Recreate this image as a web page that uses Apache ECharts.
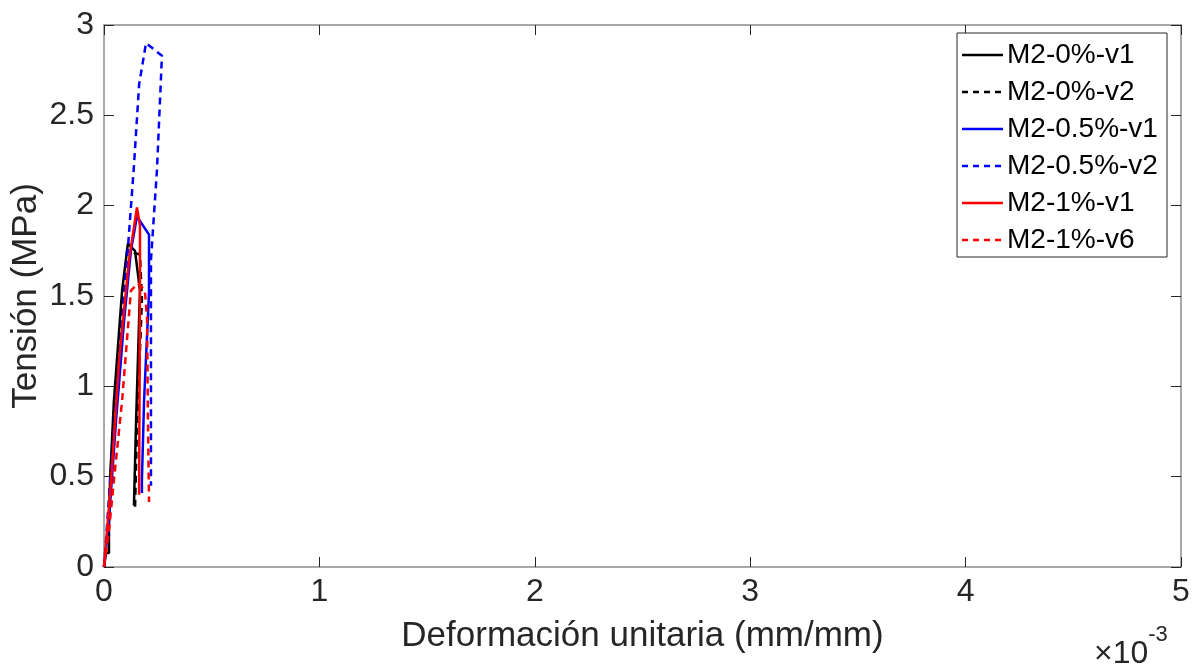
<!DOCTYPE html>
<html>
<head>
<meta charset="utf-8">
<script src="https://cdn.jsdelivr.net/npm/echarts@6/dist/echarts.min.js"></script>
<style>
  html, body { margin: 0; padding: 0; background: #fff; }
  #chart { width: 1201px; height: 667px; }
</style>
</head>
<body>
<div id="chart"></div>
<script>
// Strain values are in units of 1e-3 mm/mm (axis shows ×10^-3), stress in MPa.
const seriesNames = ['M2-0%-v1', 'M2-0%-v2', 'M2-0.5%-v1', 'M2-0.5%-v2', 'M2-1%-v1', 'M2-1%-v6'];

const m0v1Strain = [0, 0.009, 0.023, 0.023, 0.028, 0.046, 0.084, 0.111, 0.144, 0.167, 0.149, 0.139];
const m0v1Stress = [0, 0.077, 0.077, 0.205, 0.48, 0.92, 1.53, 1.79, 1.75, 1.53, 0.81, 0.34];

const m0v2Strain = [0, 0.014, 0.037, 0.070, 0.107, 0.167, 0.176, 0.153, 0.144];
const m0v2Stress = [0, 0.15, 0.65, 1.26, 1.75, 1.73, 1.48, 0.76, 0.32];

const m05v1Strain = [0, 0.023, 0.056, 0.093, 0.125, 0.153, 0.209, 0.209, 0.186, 0.176, 0.176];
const m05v1Stress = [0, 0.26, 0.81, 1.36, 1.75, 1.94, 1.84, 1.52, 0.92, 0.48, 0.41];

const m05v2Strain = [0, 0.033, 0.070, 0.107, 0.139, 0.163, 0.195, 0.269, 0.246, 0.218, 0.218, 0.218];
const m05v2Stress = [0, 0.54, 1.15, 1.70, 2.22, 2.67, 2.90, 2.83, 2.20, 1.70, 0.76, 0.45];

const m1v1Strain = [0, 0.033, 0.070, 0.116, 0.153, 0.167, 0.167, 0.163];
const m1v1Stress = [0, 0.48, 1.14, 1.70, 1.99, 1.89, 1.53, 0.40];

const m1v6Strain = [0, 0.023, 0.046, 0.084, 0.125, 0.158, 0.190, 0.200, 0.204, 0.209];
const m1v6Stress = [0, 0.20, 0.48, 0.92, 1.53, 1.57, 1.53, 1.37, 0.81, 0.36];

const xTicks = [0, 1, 2, 3, 4, 5];
const yTicks = [0, 0.5, 1, 1.5, 2, 2.5, 3];

const seriesColors = ['#000000', '#000000', '#0000ff', '#0000ff', '#ff0000', '#ff0000'];
const DASH = [7, 5];
const seriesDash = ['solid', DASH, 'solid', DASH, 'solid', DASH];

const pairs = (xs, ys) => xs.map((x, i) => [x, ys[i]]);
const curves = [
  pairs(m0v1Strain, m0v1Stress),
  pairs(m0v2Strain, m0v2Stress),
  pairs(m05v1Strain, m05v1Stress),
  pairs(m05v2Strain, m05v2Stress),
  pairs(m1v1Strain, m1v1Stress),
  pairs(m1v6Strain, m1v6Stress)
];

const FONT = 'Liberation Sans, Arial, sans-serif';
const AXIS_GREY = '#8c8c8c';
const TEXT_COL = '#262626';

const chart = echarts.init(document.getElementById('chart'), null, { renderer: 'canvas' });

const axisCommon = {
  type: 'value',
  splitLine: { show: false },
  axisLine: { show: true, onZero: false, lineStyle: { color: AXIS_GREY, width: 1.5 } },
  axisTick: { show: true, inside: true, length: 10, lineStyle: { color: '#262626', width: 1 } }
};

// Legend box drawn as graphic elements: frame, line sample, label per series
const LEG = { x: 957, y: 33, w: 210, h: 224, row0: 55, rowGap: 37, lineX0: 962, lineX1: 1003, textX: 1007 };
const legendGraphics = [{
  type: 'rect', z: 100,
  shape: { x: LEG.x, y: LEG.y, width: LEG.w, height: LEG.h },
  style: { fill: '#ffffff', stroke: '#262626', lineWidth: 1 }
}];
seriesNames.forEach((n, i) => {
  const yy = LEG.row0 + i * LEG.rowGap;
  legendGraphics.push({
    type: 'line', z: 101,
    shape: { x1: LEG.lineX0, y1: yy, x2: LEG.lineX1, y2: yy },
    style: { stroke: seriesColors[i], lineWidth: 2.5, lineDash: seriesDash[i] === 'solid' ? null : [6, 5] }
  });
  legendGraphics.push({
    type: 'text', z: 101,
    x: LEG.textX, y: yy,
    style: { text: n, fill: '#000', font: '28px ' + FONT, textVerticalAlign: 'middle', verticalAlign: 'middle' }
  });
});

chart.setOption({
  animation: false,
  backgroundColor: '#ffffff',
  grid: { left: 104, right: 20, top: 25, bottom: 100, containLabel: false, outerBoundsMode: 'none' },
  xAxis: [
    Object.assign({}, axisCommon, {
      position: 'bottom',
      min: xTicks[0], max: xTicks[xTicks.length - 1], interval: 1,
      axisLabel: { color: TEXT_COL, fontSize: 32, fontFamily: FONT, margin: 9,
        formatter: v => xTicks.includes(v) ? String(v) : '' },
      name: 'Deformación unitaria (mm/mm)',
      nameLocation: 'middle', nameGap: 52, nameMoveOverlap: false,
      nameTextStyle: { color: TEXT_COL, fontSize: 35, fontFamily: FONT }
    }),
    Object.assign({}, axisCommon, {
      position: 'top',
      min: xTicks[0], max: xTicks[xTicks.length - 1], interval: 1,
      axisLabel: { show: false }
    })
  ],
  yAxis: [
    Object.assign({}, axisCommon, {
      position: 'left',
      min: yTicks[0], max: yTicks[yTicks.length - 1], interval: 0.5,
      axisLabel: { color: TEXT_COL, fontSize: 32, fontFamily: FONT, margin: 10,
        formatter: v => String(v) },
      name: 'Tensión (MPa)',
      nameLocation: 'middle', nameGap: 60, nameRotate: 90, nameMoveOverlap: false,
      nameTextStyle: { color: TEXT_COL, fontSize: 35, fontFamily: FONT }
    }),
    Object.assign({}, axisCommon, {
      position: 'right',
      min: yTicks[0], max: yTicks[yTicks.length - 1], interval: 0.5,
      axisLabel: { show: false }
    })
  ],
  series: curves.map((d, i) => ({
    name: seriesNames[i],
    type: 'line',
    data: d,
    showSymbol: false,
    symbol: 'none',
    lineStyle: { color: seriesColors[i], width: 2.5, type: seriesDash[i] },
    itemStyle: { color: seriesColors[i] }
  })),
  graphic: legendGraphics.concat([{
    type: 'text',
    left: 1094, top: 624,
    style: {
      text: '{a|×10}{b|-3}',
      rich: {
        a: { fontSize: 32, fontFamily: FONT, fill: TEXT_COL, padding: [14, 0, 0, 0] },
        b: { fontSize: 22, fontFamily: FONT, fill: TEXT_COL, verticalAlign: 'top' }
      }
    }
  }])
});
</script>
</body>
</html>
